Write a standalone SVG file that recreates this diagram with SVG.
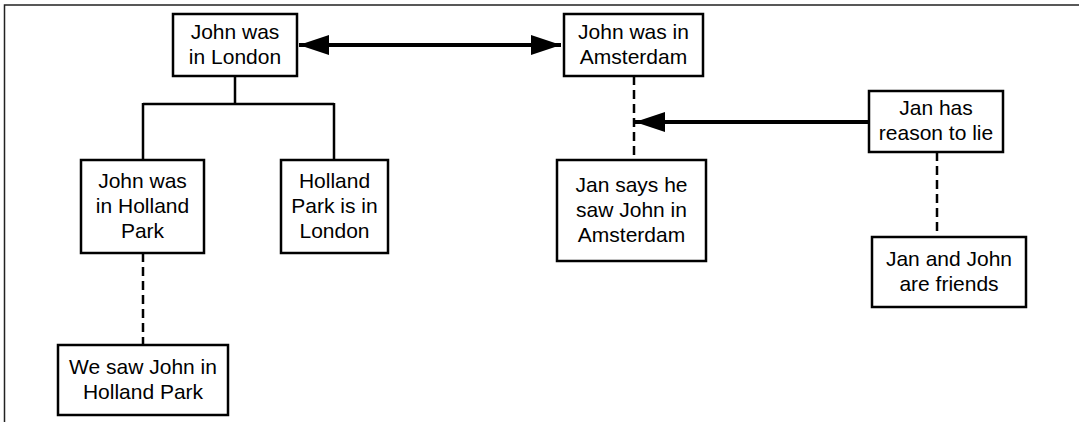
<svg xmlns="http://www.w3.org/2000/svg" width="1079" height="422" viewBox="0 0 1079 422">
<style>
.node rect{fill:#fff;stroke:#000;stroke-width:2.5}
.node text{font-family:"Liberation Sans",Arial,sans-serif;font-size:21px;fill:#000;text-anchor:middle}
.solid{fill:none;stroke:#000;stroke-width:2.5}
.dash{fill:none;stroke:#000;stroke-width:2.5;stroke-dasharray:9 5}
.thick{fill:none;stroke:#000;stroke-width:4}
</style>
<defs>
<marker id="ah" viewBox="0 0 30 20" refX="30" refY="10" markerWidth="30" markerHeight="20" markerUnits="userSpaceOnUse" orient="auto-start-reverse">
<path d="M0,0 L30,10 L0,20 Z" fill="#000"/>
</marker>
</defs>
<rect width="1079" height="422" fill="#fff"/>
<path d="M4.5,422 V5 H1079" fill="none" stroke="#222" stroke-width="1.5"/>
<g id="connectors">
<path class="solid" d="M235,76 V104 M143,104 H334 M143,103 V160 M334,103 V160"/>
<path class="dash" d="M143,253 V345"/>
<path class="dash" d="M634,76 V160"/>
<path class="dash" d="M937,152 V237"/>
<line class="thick" x1="299" y1="45" x2="561" y2="45" marker-start="url(#ah)" marker-end="url(#ah)"/>
<line class="thick" x1="869" y1="122" x2="635" y2="122" marker-end="url(#ah)"/>
</g>
<g id="n1" class="node"><rect x="173" y="14" width="124" height="62"/><text x="235" y="38.5">John was</text><text x="235" y="63.5">in London</text></g>
<g id="n2" class="node"><rect x="564" y="14" width="139" height="62"/><text x="633.5" y="38.5">John was in</text><text x="633.5" y="63.5">Amsterdam</text></g>
<g id="n3" class="node"><rect x="81" y="160" width="123" height="93"/><text x="142.5" y="187.5">John was</text><text x="142.5" y="212.5">in Holland</text><text x="142.5" y="237.5">Park</text></g>
<g id="n4" class="node"><rect x="281" y="160" width="107" height="93"/><text x="334.5" y="187.5">Holland</text><text x="334.5" y="212.5">Park is in</text><text x="334.5" y="237.5">London</text></g>
<g id="n5" class="node"><rect x="58" y="345" width="170" height="70"/><text x="143" y="373.5">We saw John in</text><text x="143" y="398.5">Holland Park</text></g>
<g id="n6" class="node"><rect x="557" y="160" width="149" height="101"/><text x="631.5" y="191.5">Jan says he</text><text x="631.5" y="216.5">saw John in</text><text x="631.5" y="241.5">Amsterdam</text></g>
<g id="n7" class="node"><rect x="869" y="91" width="134" height="61"/><text x="936" y="115">Jan has</text><text x="936" y="140">reason to lie</text></g>
<g id="n8" class="node"><rect x="872" y="237" width="154" height="70"/><text x="949" y="265.5">Jan and John</text><text x="949" y="290.5">are friends</text></g>
</svg>
